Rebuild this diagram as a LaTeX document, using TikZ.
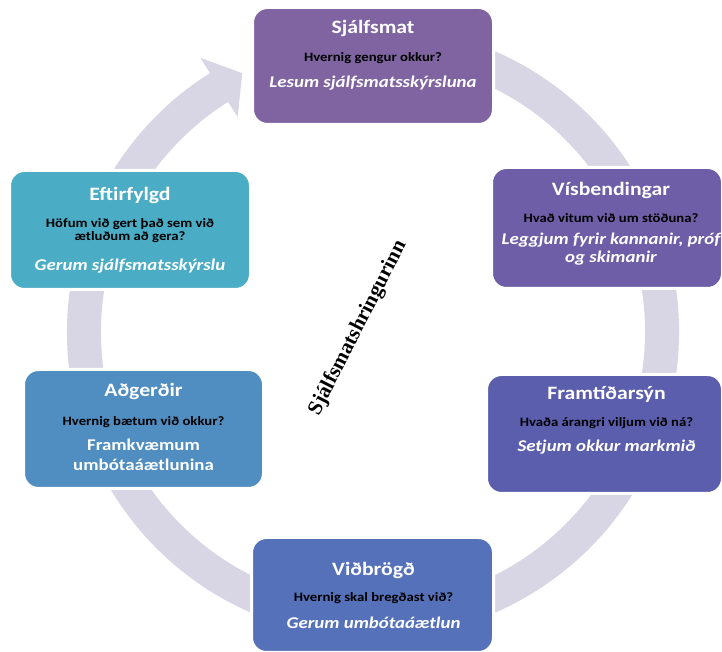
\documentclass[tikz,border=0pt]{standalone}
\usepackage{fontspec}
\setmainfont{Carlito}[FakeStretch=1.15]
\newfontfamily\ringfont{Liberation Serif}
\usetikzlibrary{calc}
\definecolor{ringc}{HTML}{D8D5E5}
\definecolor{cA}{HTML}{8064A2}
\definecolor{cB}{HTML}{6D5EA7}
\definecolor{cC}{HTML}{5B5DAD}
\definecolor{cD}{HTML}{5571B9}
\definecolor{cE}{HTML}{508DC1}
\definecolor{cF}{HTML}{4BACC6}
\begin{document}
\begin{tikzpicture}[x=1pt,y=1pt,
  box/.style={draw=white, line width=3pt, rounded corners=15pt, outer sep=0pt, inner sep=0pt},
  ttl/.style={anchor=base, inner sep=0pt, text=white, font=\fontsize{18.9}{22}\selectfont\bfseries},
  qst/.style={anchor=base, inner sep=0pt, text=black, font=\fontsize{12.8}{15}\selectfont\bfseries},
  ans/.style={anchor=base, inner sep=0pt, text=white, font=\fontsize{16.4}{19}\selectfont\bfseries\itshape},
  ansup/.style={anchor=base, inner sep=0pt, text=white, font=\fontsize{16.4}{19}\selectfont\bfseries},
  ringline/.style={draw=ringc, line width=34pt},
]
\useasboundingbox (0,0) rectangle (722,652);
\coordinate (c) at (373,320);
% ring with arrow
\draw[ringline] ($(c)+(80:289)$) arc[start angle=80, end angle=-238.5, radius=289pt];
\fill[ringc] ($(c)+(122.2:324)$) -- ($(c)+(116.8:290)$) -- ($(c)+(122.2:254)$) -- cycle;
% centre label
\node[rotate=63, font=\ringfont\fontsize{21}{24}\selectfont\bfseries] (lbl) at (358,324) {Sjálfsmatshringurinn};
% boxes
\node[box, fill=cA, minimum width=241pt, minimum height=117pt] (b1) at (373,586) {};
\node[box, fill=cB, minimum width=231pt, minimum height=121pt] (b2) at (607,424) {};
\node[box, fill=cC, minimum width=236pt, minimum height=119pt] (b3) at (604.5,218) {};
\node[box, fill=cD, minimum width=242pt, minimum height=115pt] (b4) at (372.5,57) {};
\node[box, fill=cE, minimum width=240pt, minimum height=119pt] (b5) at (143.5,223) {};
\node[box, fill=cF, minimum width=241pt, minimum height=119pt] (b6) at (130,422) {};
% texts box 1
\node[ttl] (t1a) at ($(b1.north)+(0,-26)$) {Sjálfsmat};
\node[qst] (t1b) at ($(b1.north)+(0,-54)$) {Hvernig gengur okkur?};
\node[ans] (t1c) at ($(b1.north)+(0,-80)$) {Lesum sjálfsmatsskýrsluna};
% box 2
\node[ttl] (t2a) at ($(b2.north)+(4,-28)$) {Vísbendingar};
\node[qst] (t2b) at ($(b2.north)+(4,-55)$) {Hvað vitum við um stöðuna?};
\node[ans] (t2c) at ($(b2.north)+(4,-77)$) {Leggjum fyrir kannanir, próf};
\node[ans] (t2d) at ($(b2.north)+(4,-95)$) {og skimanir};
% box 3
\node[ttl] (t3a) at ($(b3.north)+(2,-25)$) {Framtíðarsýn};
\node[qst] (t3b) at ($(b3.north)+(2,-52)$) {Hvaða árangri viljum við ná?};
\node[ans] (t3c) at ($(b3.north)+(2,-77)$) {Setjum okkur markmið};
% box 4
\node[ttl] (t4a) at ($(b4.north)+(1,-38)$) {Viðbrögð};
\node[qst] (t4b) at ($(b4.north)+(1,-64)$) {Hvernig skal bregðast við?};
\node[ans] (t4c) at ($(b4.north)+(1,-91)$) {Gerum umbótaáætlun};
% box 5
\node[ttl] (t5a) at ($(b5.north)+(0,-27)$) {Aðgerðir};
\node[qst] (t5b) at ($(b5.north)+(0,-56)$) {Hvernig bætum við okkur?};
\node[ansup] (t5c) at ($(b5.north)+(0,-81)$) {Framkvæmum};
\node[ansup] (t5d) at ($(b5.north)+(0,-101)$) {umbótaáætlunina};
% box 6
\node[ttl] (t6a) at ($(b6.north)+(0,-30)$) {Eftirfylgd};
\node[qst] (t6b) at ($(b6.north)+(0,-57)$) {Höfum við gert það sem við};
\node[qst] (t6c) at ($(b6.north)+(0,-70)$) {ætluðum að gera?};
\node[ans] (t6d) at ($(b6.north)+(0,-100)$) {Gerum sjálfsmatsskýrslu};
\end{tikzpicture}
\end{document}
